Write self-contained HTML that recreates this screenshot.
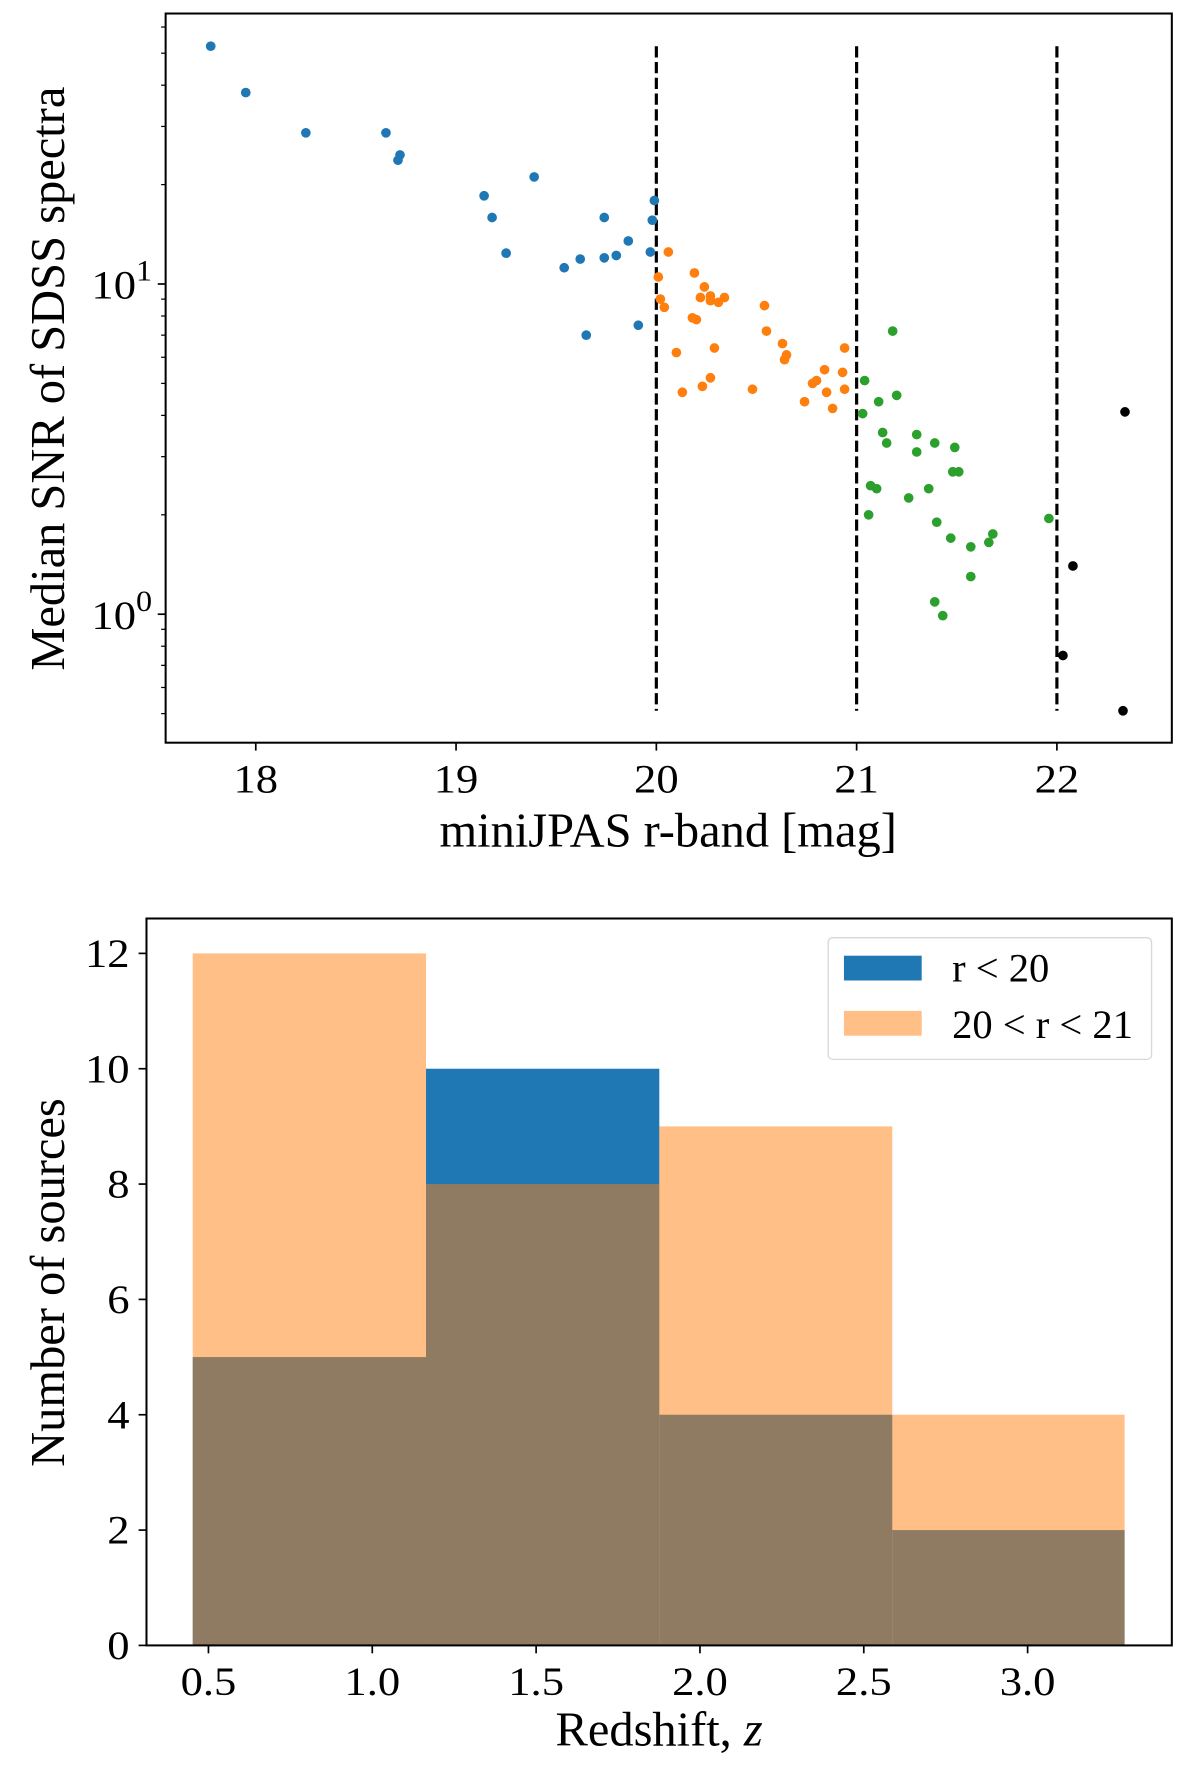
<!DOCTYPE html>
<html><head><meta charset="utf-8"><style>
html,body{margin:0;padding:0;background:#fff;}
svg{display:block;}
text{font-family:"Liberation Serif",serif;fill:#000;}
</style></head><body>
<svg id="fig" width="1200" height="1766" viewBox="0 0 1065 1567" preserveAspectRatio="none" xmlns="http://www.w3.org/2000/svg">
<g id="topPanel"></g>
<g id="botPanel"></g>
</svg>
<script>
// ---- Scatter data ----
const blueMag=[17.775,17.95,18.25,18.65,18.72,18.71,19.14,19.18,19.25,19.39,19.54,19.62,19.65,19.74,19.74,19.80,19.86,19.91,19.97,19.98,19.99];
const blueSnr=[52.5,38.0,28.7,28.7,24.6,23.7,18.5,15.9,12.4,21.1,11.2,11.9,7.0,12.0,15.9,12.2,13.5,7.5,12.5,15.6,17.9];
const orangeMag=[20.06,20.01,20.02,20.04,20.10,20.13,20.19,20.18,20.20,20.24,20.22,20.27,20.27,20.31,20.34,20.23,20.27,20.29,20.48,20.54,20.55,20.63,20.65,20.64,20.74,20.78,20.80,20.84,20.85,20.88,20.93,20.94,20.94];
const orangeSnr=[12.5,10.5,9.0,8.5,6.2,4.7,10.8,7.9,7.8,9.8,9.1,9.2,8.9,8.8,9.1,4.9,5.2,6.4,4.8,8.6,7.2,6.6,6.1,5.9,4.4,5.0,5.1,5.5,4.7,4.2,5.4,6.4,4.8];
const greenMag=[21.04,21.03,21.11,21.18,21.20,21.13,21.15,21.30,21.39,21.49,21.30,21.07,21.10,21.26,21.36,21.48,21.51,21.06,21.40,21.47,21.57,21.66,21.68,21.96,21.39,21.43,21.57];
const greenSnr=[5.1,4.05,4.4,7.2,4.6,3.55,3.3,3.5,3.3,3.2,3.1,2.45,2.4,2.25,2.4,2.7,2.7,2.0,1.9,1.7,1.6,1.65,1.75,1.95,1.09,0.99,1.3];
const blackMag=[22.34,22.08,22.03,22.33];
const blackSnr=[4.1,1.4,0.75,0.51];
const cutMags=[20,21,22];
const xTicksTop=[18,19,20,21,22];
// ---- Histogram data ----
const binEdges=[0.452,1.164,1.876,2.587,3.296];
const countsBright=[5,10,4,2];
const countsMid=[12,8,9,4];
const xTicksBot=[0.5,1.0,1.5,2.0,2.5,3.0];
const yTicksBot=[0,2,4,6,8,10,12];

const NS="http://www.w3.org/2000/svg";
function mk(parent,tag,attrs,txt){const e=document.createElementNS(NS,tag);for(const k in attrs)e.setAttribute(k,attrs[k]);if(txt!==undefined)e.textContent=txt;parent.appendChild(e);return e;}
function st(parent,x,y,anchor,size,txt){return mk(parent,'text',{x:0,y:0,'text-anchor':anchor,'font-size':size,transform:'translate('+x+','+y+') scale(1.1,1)'},txt);}

// Top axes
const TA={l:147,r:1040,t:12,b:659};
const xT=m=>227+(m-18)*177.75;
const yT=s=>252-(Math.log10(s)-1)*293;
const topG=document.getElementById('topPanel');
const allSnr=[].concat(blueSnr,orangeSnr,greenSnr,blackSnr);
const sMax=Math.max(...allSnr), sMin=Math.min(...allSnr);
cutMags.forEach(c=>{
  const l=mk(topG,'line',{x1:xT(c),x2:xT(c),y1:yT(sMax),y2:yT(sMin),stroke:'#000','stroke-width':2.8,'stroke-dasharray':'10,4'});
  
  
});
[[blueMag,blueSnr,'#1f77b4','blue-point'],[orangeMag,orangeSnr,'#ff7f0e','orange-point'],[greenMag,greenSnr,'#2ca02c','green-point'],[blackMag,blackSnr,'#000','black-point']].forEach(([xs,ys,c,n])=>{
  xs.forEach((m,i)=>{
    const p=mk(topG,'circle',{cx:xT(m),cy:yT(ys[i]),r:4.3,fill:c});
    
    
  });
});
const fr=mk(topG,'rect',{x:TA.l,y:TA.t,width:TA.r-TA.l,height:TA.b-TA.t,fill:'none',stroke:'#000','stroke-width':1.8});


xTicksTop.forEach(v=>{
  mk(topG,'line',{x1:xT(v),x2:xT(v),y1:TA.b,y2:TA.b+7,stroke:'#000','stroke-width':1.5});
  const t=st(topG,xT(v),TA.b+44,'middle',36,String(v));
  
  
});
[[1,'1'],[0,'0']].forEach(([d,s])=>{
  const y=yT(Math.pow(10,d));
  mk(topG,'line',{x1:TA.l-7,x2:TA.l,y1:y,y2:y,stroke:'#000','stroke-width':1.5});
  const t=st(topG,TA.l-12,y+13,'end',36);
  
  
  mk(t,'tspan',{},'10');
  mk(t,'tspan',{dy:-16,'font-size':26},s);
});
[0.1,1,10].forEach(dec=>{for(let k=2;k<=9;k++){const v=k*dec;const y=yT(v);if(y>TA.t&&y<TA.b)mk(topG,'line',{x1:TA.l-4,x2:TA.l,y1:y,y2:y,stroke:'#000','stroke-width':1.1});}});
let xl=mk(topG,'text',{x:593,y:751,'text-anchor':'middle','font-size':43},'miniJPAS r-band [mag]');


let yl=mk(topG,'text',{x:0,y:0,'text-anchor':'middle','font-size':43,transform:'translate(57,336) rotate(-90)'},'Median SNR of SDSS spectra');



// Bottom histogram
const BA={l:130,r:1040,t:815,b:1460};
const xB=z=>185+(z-0.5)*290.8;
const yB=c=>1460-c*51.17;
const botG=document.getElementById('botPanel');
countsBright.forEach((c,i)=>{
  const r=mk(botG,'rect',{x:xB(binEdges[i]),y:yB(c),width:xB(binEdges[i+1])-xB(binEdges[i]),height:yB(0)-yB(c),fill:'#1f77b4'});
  
  
});
countsMid.forEach((c,i)=>{
  const r=mk(botG,'rect',{x:xB(binEdges[i]),y:yB(c),width:xB(binEdges[i+1])-xB(binEdges[i]),height:yB(0)-yB(c),fill:'#ff7f0e','fill-opacity':0.5});
  
  
});
const fb=mk(botG,'rect',{x:BA.l,y:BA.t,width:BA.r-BA.l,height:BA.b-BA.t,fill:'none',stroke:'#000','stroke-width':1.8});


xTicksBot.forEach(v=>{
  mk(botG,'line',{x1:xB(v),x2:xB(v),y1:BA.b,y2:BA.b+7,stroke:'#000','stroke-width':1.5});
  const t=st(botG,xB(v),BA.b+44,'middle',36,v.toFixed(1));
  
  
});
yTicksBot.forEach(v=>{
  mk(botG,'line',{x1:BA.l-7,x2:BA.l,y1:yB(v),y2:yB(v),stroke:'#000','stroke-width':1.5});
  const t=st(botG,BA.l-15,yB(v)+12,'end',36,String(v));
  
  
});
xl=mk(botG,'text',{x:585,y:1549,'text-anchor':'middle','font-size':43});


mk(xl,'tspan',{},'Redshift, ');
mk(xl,'tspan',{'font-style':'italic'},'z');
yl=mk(botG,'text',{x:0,y:0,'text-anchor':'middle','font-size':43,transform:'translate(57,1138) rotate(-90)'},'Number of sources');


const lg=mk(botG,'g',{});


mk(lg,'rect',{x:735,y:832,width:287,height:108,rx:4,fill:'#fff','fill-opacity':0.8,stroke:'#d8d8d8','stroke-width':1.2});
let e=mk(lg,'rect',{x:749,y:848,width:69,height:22,fill:'#1f77b4'});


e=mk(lg,'rect',{x:749,y:897,width:69,height:22,fill:'#ff7f0e','fill-opacity':0.5});


e=mk(lg,'text',{x:845,y:871,'font-size':36},'r < 20');


e=mk(lg,'text',{x:845,y:921,'font-size':36},'20 < r < 21');


</script>
</body></html>
